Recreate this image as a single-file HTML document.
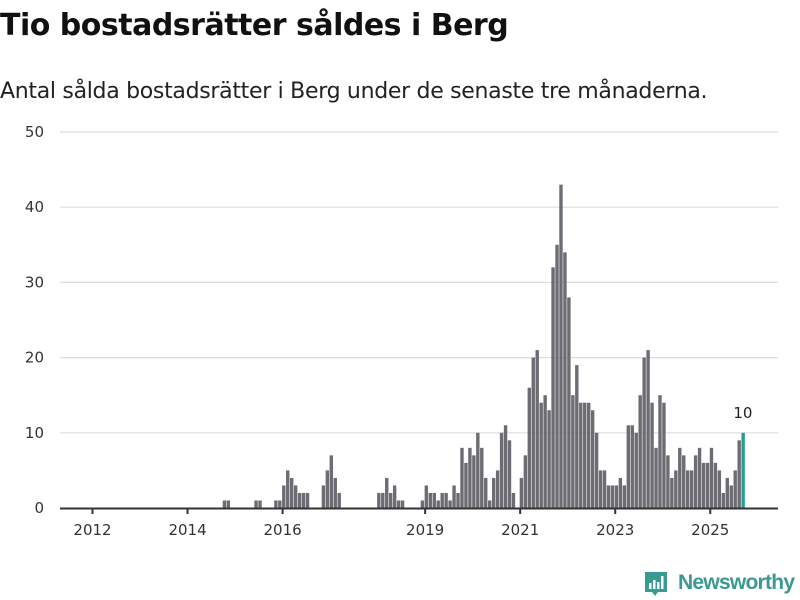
<!DOCTYPE html>
<html><head><meta charset="utf-8"><style>
body{margin:0;background:#fff;width:800px;height:600px;overflow:hidden;font-family:"Liberation Sans","DejaVu Sans",sans-serif;}
#title{position:absolute;left:0;top:8px;font-size:30px;font-weight:bold;color:#111;margin:0;font-family:"DejaVu Sans","Liberation Sans",sans-serif;letter-spacing:-0.5px}
#sub{position:absolute;left:0;top:79px;font-size:22px;color:#222;font-family:"DejaVu Sans","Liberation Sans",sans-serif;letter-spacing:-0.3px}
svg{position:absolute;left:0;top:0}
</style></head><body>
<h1 id="title">Tio bostadsrätter såldes i Berg</h1>
<div id="sub">Antal sålda bostadsrätter i Berg under de senaste tre månaderna.</div>
<svg id="chart" width="800" height="600">
<g>
<path d="M645 572 h22 v20 h-9 l-3 4 l-3 -4 h-7 z" fill="#3a9a92"/>
<rect x="649" y="583" width="2.5" height="6" fill="#fff"/>
<rect x="653" y="580" width="2.5" height="9" fill="#fff"/>
<rect x="657" y="582" width="2.5" height="7" fill="#fff"/>
<rect x="661" y="576" width="2.5" height="13" fill="#fff"/>
<text x="795" y="589" text-anchor="end" font-size="21" font-weight="bold" fill="#3a9a92" font-family="Liberation Sans, sans-serif" textLength="117">Newsworthy</text>
</g>
</svg>
<script>
const yTicks=[0,10,20,30,40,50];
const xTickYears=[2012,2014,2016,2019,2021,2023,2025];
const startYear=2012;
const values=[0,0,0,0,0,0,0,0,0,0,0,0,0,0,0,0,0,0,0,0,0,0,0,0,0,0,0,0,0,0,0,0,0,
1,1,0,0,0,0,0,0,1,1,0,0,0,
1,1,3,5,4,3,2,2,2,0,0,0,
3,5,7,4,2,0,0,0,0,0,0,0,0,0,
2,2,4,2,3,1,1,0,0,0,0,
1,3,2,2,1,2,2,1,3,2,8,6,8,7,10,8,4,1,4,5,10,11,9,2,0,
4,7,16,20,21,14,15,13,32,35,43,34,28,15,19,14,14,14,13,10,5,5,3,3,3,4,3,11,11,10,15,20,21,14,8,15,14,7,4,5,8,7,5,5,7,8,6,6,8,6,5,2,4,3,5,9,10];
const lastLabel="10";
const svg=document.getElementById('chart');
const NS='http://www.w3.org/2000/svg';
const x0=92,band=3.96,yBase=508,yMax=50,yTop=132;
const xs=i=>x0+i*band;
const ys=v=>yBase-(v/yMax)*(yBase-yTop);
function mk(t,a){const e=document.createElementNS(NS,t);for(const k in a)e.setAttribute(k,a[k]);svg.appendChild(e);return e;}
yTicks.forEach(t=>{
 if(t>0){const g=mk('line',{x1:60,x2:778,y1:ys(t),y2:ys(t),stroke:'#dedede','stroke-width':1.2});
 
 }
 const l=mk('text',{x:44,y:ys(t)+5,'text-anchor':'end','font-size':15,fill:'#333','font-family':'DejaVu Sans, sans-serif'});
 l.textContent=t;
 
 
});
values.forEach((v,i)=>{
 if(v<=0)return;
 const last=i===values.length-1;
 const r=mk('rect',{x:xs(i),y:ys(v),width:3.4,height:yBase-ys(v),fill:last?'#23a093':'#6d6c72'});
 
 
});
const ax=mk('line',{x1:60,x2:778,y1:yBase+0.5,y2:yBase+0.5,stroke:'#333','stroke-width':2});


xTickYears.forEach(y=>{
 const x=xs((y-startYear)*12)+0.5;
 const tk=mk('line',{x1:x,x2:x,y1:yBase,y2:yBase+6,stroke:'#333','stroke-width':2});
 
 
 const l=mk('text',{x:x,y:535,'text-anchor':'middle','font-size':15,fill:'#333','font-family':'DejaVu Sans, sans-serif'});
 l.textContent=y;
 
 
});
const li=values.length-1;
const vl=mk('text',{x:xs(li)+1.5,y:ys(values[li])-15,'text-anchor':'middle','font-size':15,fill:'#222','font-family':'DejaVu Sans, sans-serif'});
vl.textContent=lastLabel;


</script>
</body></html>
